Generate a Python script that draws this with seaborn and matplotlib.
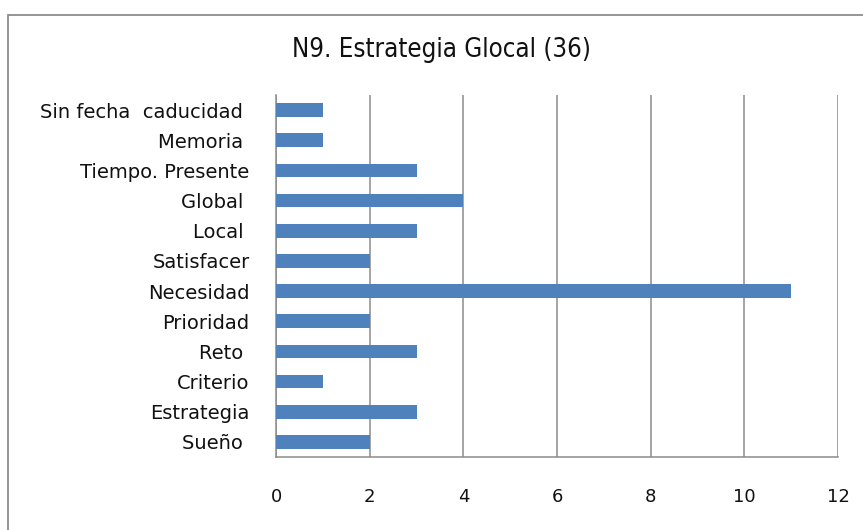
import matplotlib
matplotlib.use("Agg")
import matplotlib.pyplot as plt
import seaborn as sns
import pandas as pd
from matplotlib.patches import Rectangle

categories = ["Sin fecha  caducidad ", "Memoria ", "Tiempo. Presente", "Global ", "Local ",
              "Satisfacer", "Necesidad", "Prioridad", "Reto ", "Criterio", "Estrategia", "Sueño "]
values = [1, 1, 3, 4, 3, 2, 11, 2, 3, 1, 3, 2]
xticks = [0, 2, 4, 6, 8, 10, 12]
title = "N9. Estrategia Glocal (36)"

df = pd.DataFrame({"cat": categories, "val": values})

sns.set_theme(style="white")
plt.rcParams['font.family'] = ['DejaVu Sans']

W, H = 863, 530
fig = plt.figure(figsize=(W / 100, H / 100), dpi=100)
ax = fig.add_axes([276 / W, 1 - 457 / H, (838 - 276) / W, (457 - 95) / H])

sns.barplot(data=df, x="val", y="cat", order=categories, color="#4F81BD",
            saturation=1, width=0.45, linewidth=0, ax=ax, zorder=3)

ax.set_xlim(0, 12)
ax.set_ylim(len(categories) - 0.5, -0.5)
ax.set_xticks(xticks)
ax.set_xticklabels([str(t) for t in xticks])
ax.set_xlabel("")
ax.set_ylabel("")
ax.grid(axis="x", color="#8C8C8C", linewidth=1.1, zorder=0)
ax.grid(axis="y", visible=False)
for s in ["top", "right"]:
    ax.spines[s].set_visible(False)
for s in ["left", "bottom"]:
    ax.spines[s].set_color("#8C8C8C")
    ax.spines[s].set_linewidth(1.1)
ax.tick_params(axis="y", length=0, pad=19, labelsize=14, labelcolor="#111111")
ax.tick_params(axis="x", length=0, pad=22, labelsize=13, labelcolor="#111111")

fig.text(441 / W, 1 - 50 / H, title, ha="center", va="center", fontsize=18.5,
         family=["DejaVu Sans"], fontstretch="condensed", color="#111111")

fig.patches.append(Rectangle((7.5 / W, -0.1), 1.2, 1.1 - 15 / H,
                             transform=fig.transFigure, fill=False,
                             edgecolor="#8C8C8C", linewidth=1.3))

fig.savefig("out.png", dpi=100)
